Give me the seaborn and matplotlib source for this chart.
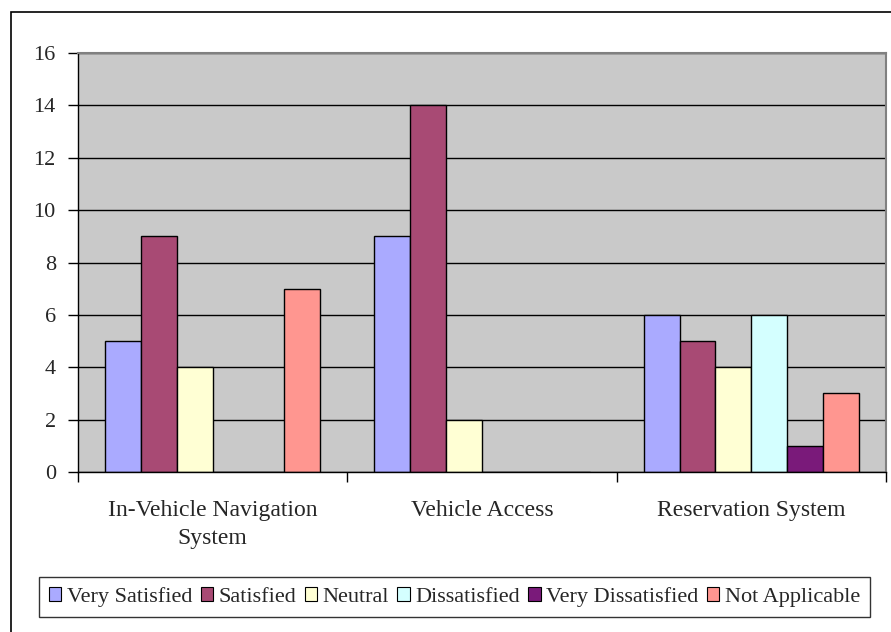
import numpy as np
import pandas as pd
import matplotlib.pyplot as plt
import seaborn as sns
from matplotlib.patches import Rectangle

# ---- data ----
categories = ['In-Vehicle Navigation\nSystem', 'Vehicle Access', 'Reservation System']
responses = ['Very Satisfied', 'Satisfied', 'Neutral', 'Dissatisfied',
             'Very Dissatisfied', 'Not Applicable']
very_satisfied = [5, 9, 6]
satisfied = [9, 14, 5]
neutral = [4, 2, 4]
dissatisfied = [0, 0, 6]
very_dissatisfied = [0, 0, 1]
not_applicable = [7, 0, 3]
colors = ['#AAAAFF', '#A84A74', '#FFFFD4', '#D4FFFF', '#7A1A7A', '#FF9690']

series = [very_satisfied, satisfied, neutral, dissatisfied, very_dissatisfied, not_applicable]
rows = []
for resp, vals in zip(responses, series):
    for cat, v in zip(categories, vals):
        rows.append({'category': cat, 'response': resp, 'count': v})
df = pd.DataFrame(rows)

# ---- plot ----
sns.set_style('white')
plt.rcParams['font.family'] = ['Liberation Serif', 'DejaVu Serif']

fig = plt.figure(figsize=(8.91, 6.32), dpi=100)
ax = fig.add_axes([78 / 891, 1 - 472 / 632, (886 - 78) / 891, (472 - 53) / 632])

sns.barplot(data=df, x='category', y='count', hue='response', order=categories,
            hue_order=responses, palette=colors, width=0.8, edgecolor='black',
            linewidth=1, saturation=1, legend=True, ax=ax)

ax.set_facecolor('#C9C9C9')
ax.set_ylim(0, 16)
ax.set_xlim(-0.5, 2.5)
ax.set_yticks(np.arange(0, 17, 2))
ax.yaxis.grid(True, color='black', linewidth=1)
ax.set_axisbelow(True)
ax.set_xlabel('')
ax.set_ylabel('')

# category separator ticks below the axis
ax.set_xticks([-0.5, 0.5, 1.5, 2.5], minor=True)
ax.tick_params(axis='x', which='major', length=0, pad=20, labelsize=17)
ax.tick_params(axis='x', which='minor', length=7, width=1, direction='out', color='black')
ax.tick_params(axis='y', length=7, width=1, direction='out', color='black', labelsize=16, pad=9)
ax.tick_params(bottom=True, left=True, which='both')
for lbl in ax.get_xticklabels():
    lbl.set_linespacing(1.45)

for s in ['left', 'bottom']:
    ax.spines[s].set_color('black')
    ax.spines[s].set_linewidth(1)
for s in ['top', 'right']:
    ax.spines[s].set_color('#808080')
    ax.spines[s].set_linewidth(1.5)

# legend along the bottom
handles, labels = ax.get_legend_handles_labels()
ax.legend_.remove()
leg = fig.legend(handles, labels, loc='lower left', ncol=6,
                 bbox_to_anchor=(28 / 891, 1 - 628 / 632, (881 - 28) / 891, 42 / 632),
                 mode='expand', frameon=True, fancybox=False, fontsize=16,
                 handlelength=0.55, handleheight=0.55, handletextpad=0.25,
                 columnspacing=0.4, borderpad=0.45)
leg.get_frame().set_edgecolor('black')
leg.get_frame().set_linewidth(1)
for h in leg.legend_handles:
    h.set_edgecolor('black')
    h.set_linewidth(0.8)

# outer chart border
fig.patches.append(Rectangle((11 / 891, -0.01), 1.0, 1 - 12 / 632 + 0.01,
                             transform=fig.transFigure, fill=False,
                             edgecolor='black', linewidth=1.2))

fig.savefig('out.png', dpi=100)
